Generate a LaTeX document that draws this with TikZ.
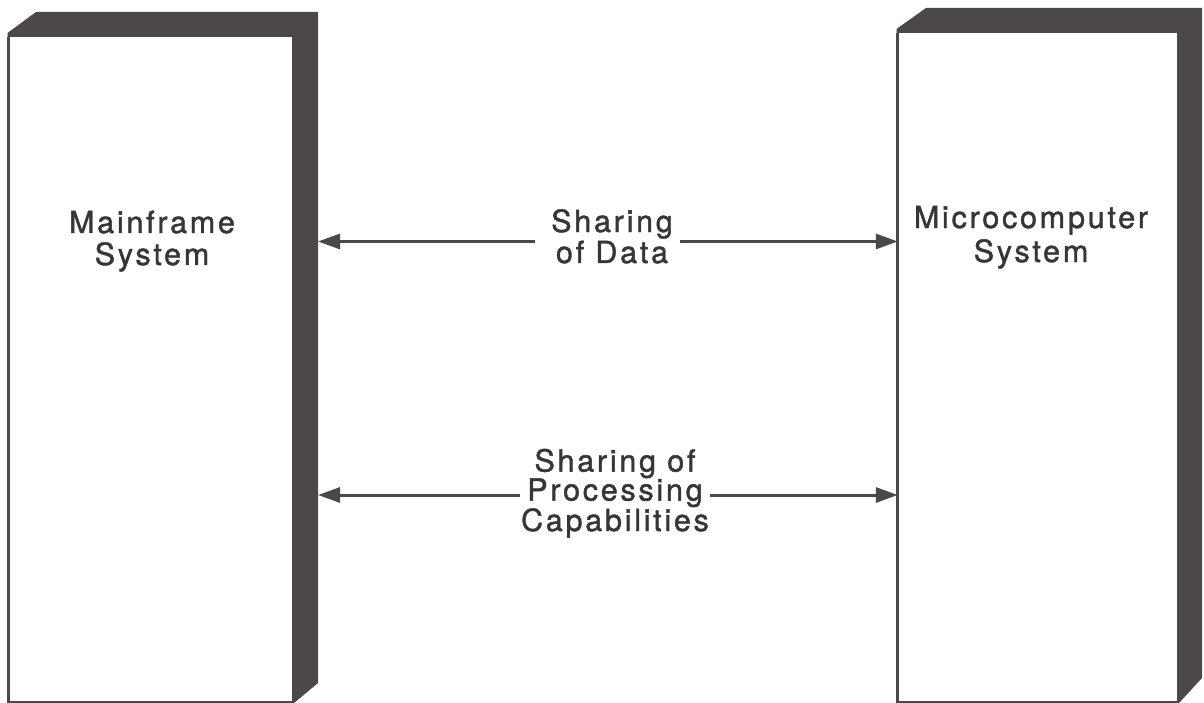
\documentclass[tikz,border=0pt]{standalone}
\usepackage{fontspec}
\setmainfont{TeX Gyre Heros}[LetterSpace=9,FakeBold=1.4]
\usetikzlibrary{arrows.meta}
\definecolor{ink}{HTML}{4B474A}
\definecolor{txt}{HTML}{363636}
\begin{document}
\begin{tikzpicture}[x=1pt,y=-1pt,
  lbl/.style={text=txt,align=center,inner sep=0pt,anchor=base},
  face/.style={fill=white,inner sep=0pt,draw=none},
  edge/.style={draw=ink,line width=3pt},
  link/.style={draw=ink,line width=3pt,-{Triangle[length=22pt,width=15pt]}}]
\useasboundingbox (0,0) rectangle (1204,703);
% left prism
\fill[ink] (7.5,37) -- (7.5,33) -- (36,12) -- (318,12) -- (318,683) -- (294,703) -- (292,703) -- (292,37) -- cycle;
\node[face,minimum width=283pt,minimum height=665pt] (mf) at (150.5,369.5) {};
\coordinate (mfback) at (318,370);
\draw[edge] (mf.north west) -- (mf.south west) -- (mf.south east);
% right prism
\fill[ink] (896.5,33) -- (896.5,29) -- (926,8) -- (1202,8) -- (1202,678) -- (1179,703) -- (1177,703) -- (1177,33) -- cycle;
\node[face,minimum width=279pt,minimum height=669pt] (mc) at (1037.5,367.5) {};
\draw[edge] (mc.north west) -- (mc.south west) -- (mc.south east);
% labels (anchor base = baseline of the last line)
\node[lbl,font=\fontsize{30.5}{32}\selectfont] (mfl) at (152,265) {Mainframe\\System};
\node[lbl,font=\fontsize{30.5}{34}\selectfont] (mcl) at (1031,262) {Microcomputer\\System};
\node[lbl,font=\fontsize{30.5}{31}\selectfont] (data) at (612,263) {Sharing\\of Data};
\node[lbl,font=\fontsize{30.5}{29}\selectfont] (proc) at (615,531) {Sharing of\\Processing\\Capabilities};
% connectors
\coordinate (d1) at (535,241.5);
\coordinate (d2) at (680,241.5);
\coordinate (p1) at (520,495);
\coordinate (p2) at (710,495);
\draw[link] (d1) -- (d1 -| mfback);
\draw[link] (d2) -- (d2 -| mc.west);
\draw[link] (p1) -- (p1 -| mfback);
\draw[link] (p2) -- (p2 -| mc.west);
\end{tikzpicture}
\end{document}
